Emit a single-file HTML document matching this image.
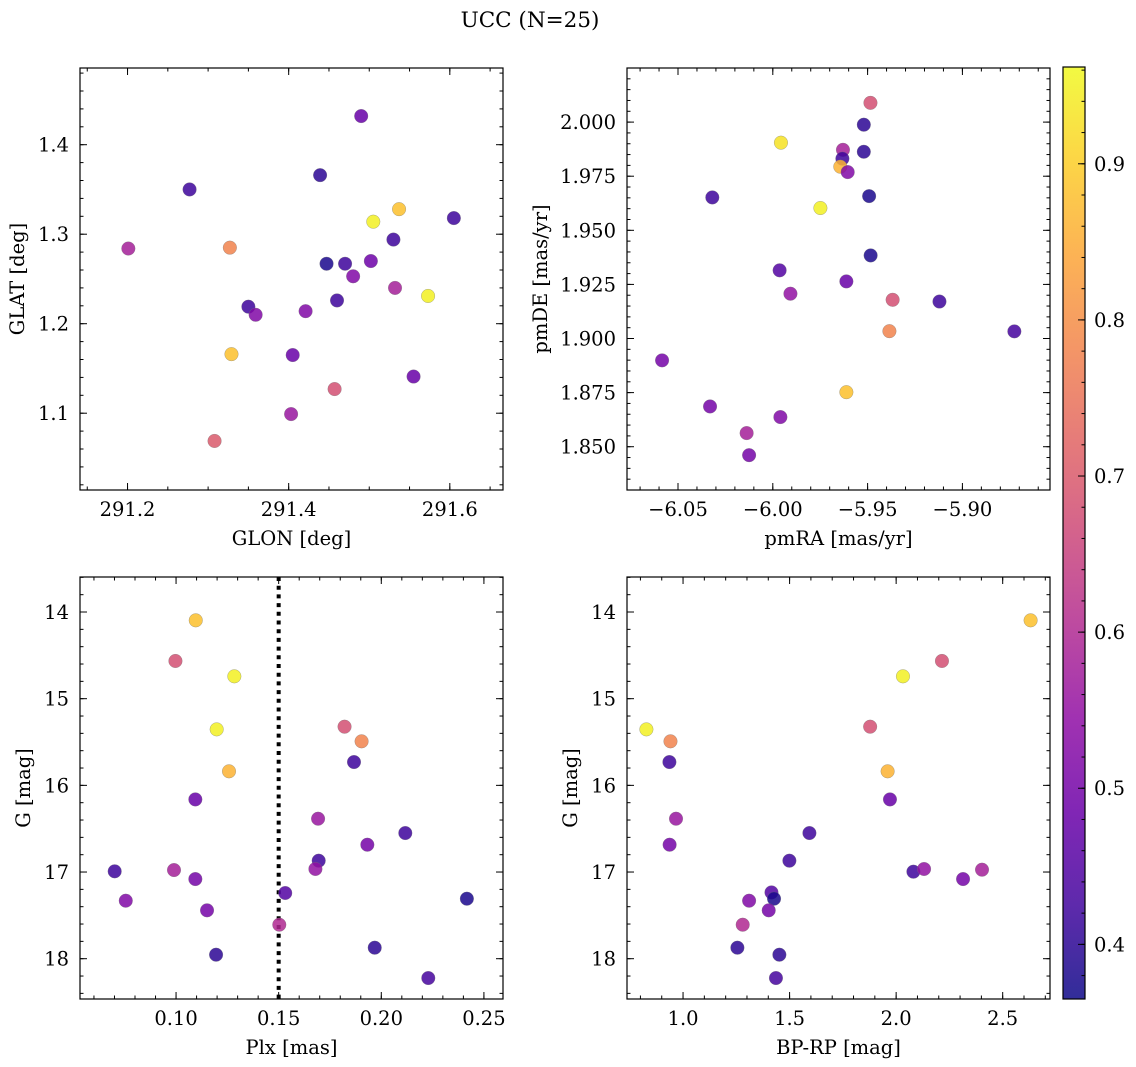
<!DOCTYPE html>
<html><head><meta charset="utf-8"><style>
html,body{margin:0;padding:0;background:#fff;}
svg{display:block;font-family:"DejaVu Serif","Liberation Serif",serif;}
</style></head><body>
<svg id="fig" width="1136" height="1067" viewBox="0 0 1136 1067" xmlns="http://www.w3.org/2000/svg">
<text x="530" y="27" text-anchor="middle" font-size="21.5">UCC (N=25)</text>
</svg>
<script>
// ---- data: panel 1 (GLON vs GLAT)
const glon1 = [291.490,291.439,291.277,291.537,291.505,291.605,291.201,291.327,291.530,291.447,291.470,291.502,291.480,291.532,291.573,291.350,291.359,291.460,291.421,291.329,291.405,291.555,291.457,291.403,291.308];
const glat1 = [1.432,1.366,1.350,1.328,1.314,1.318,1.284,1.285,1.294,1.267,1.267,1.270,1.253,1.240,1.231,1.219,1.210,1.226,1.214,1.166,1.165,1.141,1.127,1.099,1.069];
const col1  = [0.48,0.40,0.42,0.88,0.95,0.42,0.58,0.78,0.42,0.38,0.42,0.49,0.52,0.58,0.95,0.42,0.52,0.42,0.52,0.88,0.48,0.48,0.68,0.56,0.70];
// ---- panel 2 (pmRA vs pmDE)
const pmra2 = [-5.9485,-5.952,-5.9957,-5.963,-5.952,-5.9633,-5.9644,-5.9605,-6.0319,-5.9492,-5.9749,-5.9484,-5.9964,-5.9612,-5.9907,-5.9368,-5.9121,-5.8726,-5.9385,-6.0584,-5.9612,-6.0331,-5.9960,-6.0138,-6.0125];
const pmde2 = [2.0089,1.9988,1.9905,1.9872,1.9863,1.9831,1.9794,1.9769,1.9652,1.9658,1.9603,1.9384,1.9315,1.9264,1.9207,1.9179,1.9171,1.9033,1.9034,1.8899,1.8752,1.8686,1.8637,1.8563,1.8461];
const col2  = [0.68,0.40,0.93,0.58,0.40,0.42,0.86,0.52,0.42,0.38,0.95,0.38,0.45,0.48,0.55,0.68,0.42,0.43,0.78,0.50,0.88,0.50,0.52,0.58,0.50];
// ---- panel 3 (Plx vs G)
const plx3 = [0.1096,0.0997,0.1284,0.1198,0.1258,0.1094,0.1821,0.1904,0.1867,0.1692,0.2117,0.1932,0.1695,0.1679,0.0701,0.0990,0.1094,0.0755,0.1151,0.1532,0.2417,0.1503,0.1195,0.1968,0.2229];
const g3   = [14.096,14.565,14.742,15.354,15.838,16.162,15.323,15.492,15.731,16.385,16.550,16.685,16.869,16.965,16.992,16.977,17.081,17.331,17.442,17.242,17.308,17.608,17.954,17.873,18.223];
const col3 = [0.88,0.68,0.95,0.95,0.86,0.48,0.68,0.78,0.42,0.56,0.42,0.50,0.42,0.55,0.42,0.58,0.50,0.52,0.50,0.45,0.38,0.60,0.40,0.40,0.43];
// ---- panel 4 (BP-RP vs G)
const bprp4 = [2.631,2.215,2.032,0.828,0.941,0.936,1.878,1.960,1.971,0.967,1.593,0.937,1.499,2.081,2.131,2.403,2.314,1.415,1.427,1.310,1.402,1.280,1.255,1.452,1.436];
const g4    = [14.096,14.565,14.742,15.354,15.492,15.731,15.323,15.838,16.162,16.385,16.550,16.685,16.869,16.996,16.965,16.973,17.081,17.235,17.308,17.331,17.442,17.608,17.873,17.954,18.223];
const col4  = [0.88,0.68,0.95,0.95,0.78,0.42,0.68,0.86,0.48,0.56,0.42,0.50,0.42,0.42,0.55,0.58,0.50,0.45,0.38,0.52,0.50,0.60,0.40,0.40,0.43];
// ---- tick labels
const ticks1x = [291.2,291.4,291.6];
const ticks1y = [1.1,1.2,1.3,1.4];
const ticks2x = [-6.05,-6.00,-5.95,-5.90];
const ticks2y = [1.850,1.875,1.900,1.925,1.950,1.975,2.000];
const ticks3x = [0.10,0.15,0.20,0.25];
const ticksGy = [14,15,16,17,18];
const ticks4x = [1.0,1.5,2.0,2.5];
const ticksCb = [0.4,0.5,0.6,0.7,0.8,0.9];
const plxLine = [0.15];
const cmin = 0.365, cmax = 0.962;

const FS = 19.5;
const NS = "http://www.w3.org/2000/svg";
const svg = document.getElementById('fig');
function mk(tag, attrs, parent){
  const e = document.createElementNS(NS, tag);
  for (const k in attrs) e.setAttribute(k, attrs[k]);
  (parent||svg).appendChild(e);
  return e;
}
const stops = ["#0d0887","#41049d","#6a00a8","#8f0da4","#b12a90","#cc4778","#e16462","#f2844b","#fca636","#fcce25","#f0f921"];
function hx(h){return [parseInt(h.substr(1,2),16),parseInt(h.substr(3,2),16),parseInt(h.substr(5,2),16)];}
function plasma(t){
  t=Math.max(0,Math.min(1,t)); const f=t*10; const i=Math.min(9,Math.floor(f)); const r=f-i;
  const a=hx(stops[i]), b=hx(stops[i+1]);
  return "rgb("+a.map((v,k)=>Math.round(v+(b[k]-v)*r)).join(",")+")";
}
function cval(v){return plasma((v-cmin)/(cmax-cmin));}

function panel(o){
  const {name,L,T,W,H,xmin,xmax,ymin,ymax,inv,xs,ys,cs,xt,yt,xfmt,yfmt,xminor,yminor,xlabel,ylabel,ylx} = o;
  const g = mk('g',{});
  
  
  const sx = v => L + (v-xmin)/(xmax-xmin)*W;
  const sy = v => inv ? T + (v-ymin)/(ymax-ymin)*H : T + H - (v-ymin)/(ymax-ymin)*H;
  const tk = mk('g',{stroke:'#000','stroke-width':1},g);
  
  
  for (let v=Math.ceil(xmin/xminor-1e-6)*xminor; v<=xmax+1e-9; v+=xminor){
    const x=sx(v); if(x<L||x>L+W) continue;
    mk('line',{x1:x,x2:x,y1:T+H,y2:T+H-3.5},tk); mk('line',{x1:x,x2:x,y1:T,y2:T+3.5},tk);
  }
  for (let v=Math.ceil(ymin/yminor-1e-6)*yminor; v<=ymax+1e-9; v+=yminor){
    const y=sy(v); if(y<T||y>T+H) continue;
    mk('line',{x1:L,x2:L+3.5,y1:y,y2:y},tk); mk('line',{x1:L+W,x2:L+W-3.5,y1:y,y2:y},tk);
  }
  xt.forEach(v=>{
    const x=sx(v);
    mk('line',{x1:x,x2:x,y1:T+H,y2:T+H-7},tk); mk('line',{x1:x,x2:x,y1:T,y2:T+7},tk);
    const t=mk('text',{x:x,y:T+H+26,'text-anchor':'middle','font-size':FS},g);
     
    t.textContent=xfmt(v);
  });
  yt.forEach(v=>{
    const y=sy(v);
    mk('line',{x1:L,x2:L+7,y1:y,y2:y},tk); mk('line',{x1:L+W,x2:L+W-7,y1:y,y2:y},tk);
    const t=mk('text',{x:L-11,y:y+7,'text-anchor':'end','font-size':FS},g);
     
    t.textContent=yfmt(v);
  });
  if (o.vline){
    o.vline.forEach(v=>{
      const l=mk('line',{x1:sx(v),x2:sx(v),y1:T,y2:T+H,stroke:'#000','stroke-width':4,'stroke-dasharray':'4 4.7'},g);
       
    });
  }
  xs.forEach((v,i)=>{
    const c=mk('circle',{cx:sx(v),cy:sy(ys[i]),r:6.8,fill:cval(cs[i]),'fill-opacity':0.85,stroke:'#777','stroke-width':0.5,'stroke-opacity':0.6},g);
    
    
  });
  const fr=mk('rect',{x:L,y:T,width:W,height:H,fill:'none',stroke:'#000','stroke-width':1.2},g);
   
  const xl=mk('text',{x:L+W/2,y:T+H+55,'text-anchor':'middle','font-size':FS},g);
   
  xl.textContent=xlabel;
  const yl=mk('text',{x:ylx,y:T+H/2,'text-anchor':'middle','font-size':FS,transform:`rotate(-90 ${ylx} ${T+H/2})`},g);
   
  yl.textContent=ylabel;
}

panel({name:'glon-glat-panel',L:80,T:68,W:423,H:422,xmin:291.141,xmax:291.666,ymin:1.0142,ymax:1.4857,inv:false,
  xs:glon1,ys:glat1,cs:col1,xt:ticks1x,yt:ticks1y,xfmt:v=>v.toFixed(1),yfmt:v=>v.toFixed(1),xminor:0.05,yminor:0.02,
  xlabel:'GLON [deg]',ylabel:'GLAT [deg]',ylx:24});
panel({name:'pmra-pmde-panel',L:627,T:68,W:423,H:422,xmin:-6.0769,xmax:-5.8538,ymin:1.830,ymax:2.025,inv:false,
  xs:pmra2,ys:pmde2,cs:col2,xt:ticks2x,yt:ticks2y,xfmt:v=>v.toFixed(2).replace('-','\u2212'),yfmt:v=>v.toFixed(3),xminor:0.01,yminor:0.005,
  xlabel:'pmRA [mas/yr]',ylabel:'pmDE [mas/yr]',ylx:547});
panel({name:'plx-g-panel',L:80,T:577,W:423,H:422,xmin:0.0532,xmax:0.2593,ymin:13.596,ymax:18.465,inv:true,
  xs:plx3,ys:g3,cs:col3,xt:ticks3x,yt:ticksGy,xfmt:v=>v.toFixed(2),yfmt:v=>String(v),xminor:0.01,yminor:0.2,
  xlabel:'Plx [mas]',ylabel:'G [mag]',ylx:30,vline:plxLine});
panel({name:'bprp-g-panel',L:627,T:577,W:423,H:422,xmin:0.737,xmax:2.722,ymin:13.596,ymax:18.465,inv:true,
  xs:bprp4,ys:g4,cs:col4,xt:ticks4x,yt:ticksGy,xfmt:v=>v.toFixed(1),yfmt:v=>String(v),xminor:0.1,yminor:0.2,
  xlabel:'BP-RP [mag]',ylabel:'G [mag]',ylx:577});

(function(){
  const L=1063,T=67,W=22,H=932;
  const g=mk('g',{});
   
  const defs=mk('defs',{},g);
  const lg=mk('linearGradient',{id:'cb',x1:0,y1:1,x2:0,y2:0},defs);
  for(let i=0;i<=20;i++){mk('stop',{offset:i/20,'stop-color':plasma(i/20),'stop-opacity':0.85},lg);}
  mk('rect',{x:L,y:T,width:W,height:H,fill:'url(#cb)'},g);
  const cy=v=>T+H-(v-cmin)/(cmax-cmin)*H;
  for(let v=0.38; v<=cmax; v+=0.02){ const y=cy(v); mk('line',{x1:L+W,x2:L+W-3.5,y1:y,y2:y,stroke:'#000','stroke-width':1},g); }
  ticksCb.forEach(v=>{
    const y=cy(v);
    mk('line',{x1:L+W,x2:L+W-7,y1:y,y2:y,stroke:'#000','stroke-width':1},g);
    const t=mk('text',{x:L+W+9,y:y+7,'font-size':FS},g);
     
    t.textContent=v.toFixed(1);
  });
  mk('rect',{x:L,y:T,width:W,height:H,fill:'none',stroke:'#000','stroke-width':1.2},g);
})();
</script>
</body></html>
